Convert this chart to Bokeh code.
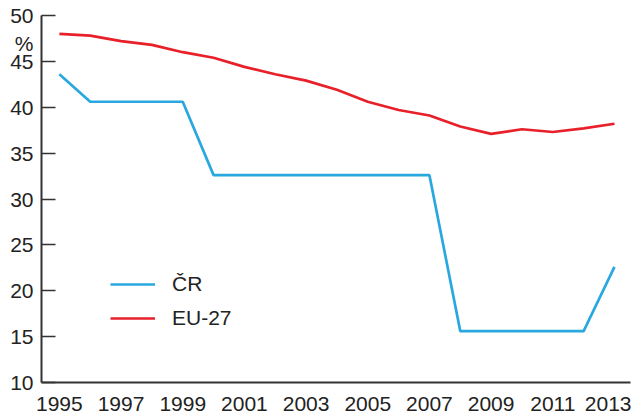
from bokeh.plotting import figure
from bokeh.models import Range1d, FixedTicker, Legend, LegendItem, LinearAxis
from bokeh.embed import file_html
from bokeh.resources import INLINE

years = list(range(1995, 2014))
cr = [43.6, 40.6, 40.6, 40.6, 40.6, 32.6, 32.6, 32.6, 32.6, 32.6, 32.6, 32.6, 32.6,
      15.6, 15.6, 15.6, 15.6, 15.6, 22.6]
eu27 = [48.0, 47.8, 47.2, 46.8, 46.0, 45.4, 44.4, 43.6, 42.9, 41.9, 40.6, 39.7, 39.1,
        37.9, 37.1, 37.6, 37.3, 37.7, 38.2]
x_ticks = list(range(1995, 2014, 2))
y_ticks = [10, 15, 20, 25, 30, 35, 40, 45, 50]
unit_label = "%"
unit_pos = 47.0

FONT = "Liberation Sans"
AX = "#333333"

p = figure(width=631, height=413, output_backend="svg", toolbar_location=None,
           x_range=Range1d(1994.42, 2013.52), y_range=Range1d(10, 50),
           min_border_left=41, min_border_top=15, min_border_bottom=31, min_border_right=1)
p.outline_line_color = None
p.xgrid.grid_line_color = None
p.ygrid.grid_line_color = None

r_cr = p.line(years, cr, line_color="#29a8e0", line_width=2.7)
r_eu = p.line(years, eu27, line_color="#e8202a", line_width=2.7)

p.xaxis.ticker = FixedTicker(ticks=x_ticks)
xa = p.xaxis[0]
xa.axis_line_color = AX
xa.axis_line_width = 2
xa.major_label_text_font = FONT
xa.major_label_text_font_size = "21px"
xa.major_label_text_color = "#222222"
xa.minor_tick_line_color = None
xa.major_tick_line_color = None
xa.major_label_standoff = 8

# inner y axis: line and inward ticks only (labels blanked)
ya = p.yaxis[0]
ya.ticker = FixedTicker(ticks=y_ticks)
ya.axis_line_color = AX
ya.axis_line_width = 2
ya.minor_tick_line_color = None
ya.major_tick_in = 14
ya.major_tick_out = 0
ya.major_tick_line_color = AX
ya.major_tick_line_width = 1.5
ya.major_label_overrides = {t: "" for t in y_ticks}
ya.major_label_standoff = 0

# outer y axis: labels only (numbers and unit)
ya2 = LinearAxis(ticker=FixedTicker(ticks=y_ticks + [unit_pos]),
                 major_label_overrides={unit_pos: unit_label})
ya2.axis_line_color = None
ya2.major_tick_line_color = None
ya2.minor_tick_line_color = None
ya2.major_tick_in = 0
ya2.major_tick_out = 0
ya2.major_label_standoff = 8
ya2.major_label_text_font = FONT
ya2.major_label_text_font_size = "21px"
ya2.major_label_text_color = "#222222"
p.add_layout(ya2, "left")

legend = Legend(items=[LegendItem(label="ČR", renderers=[r_cr]),
                       LegendItem(label="EU-27", renderers=[r_eu])],
                location=(69, 52), glyph_width=45, glyph_height=20, spacing=10,
                label_standoff=17, label_text_font=FONT, label_text_font_size="21px",
                label_text_color="#222222", padding=0, margin=0,
                border_line_color=None, background_fill_alpha=0)
p.add_layout(legend)

open("out.html", "w").write(file_html(p, INLINE))
